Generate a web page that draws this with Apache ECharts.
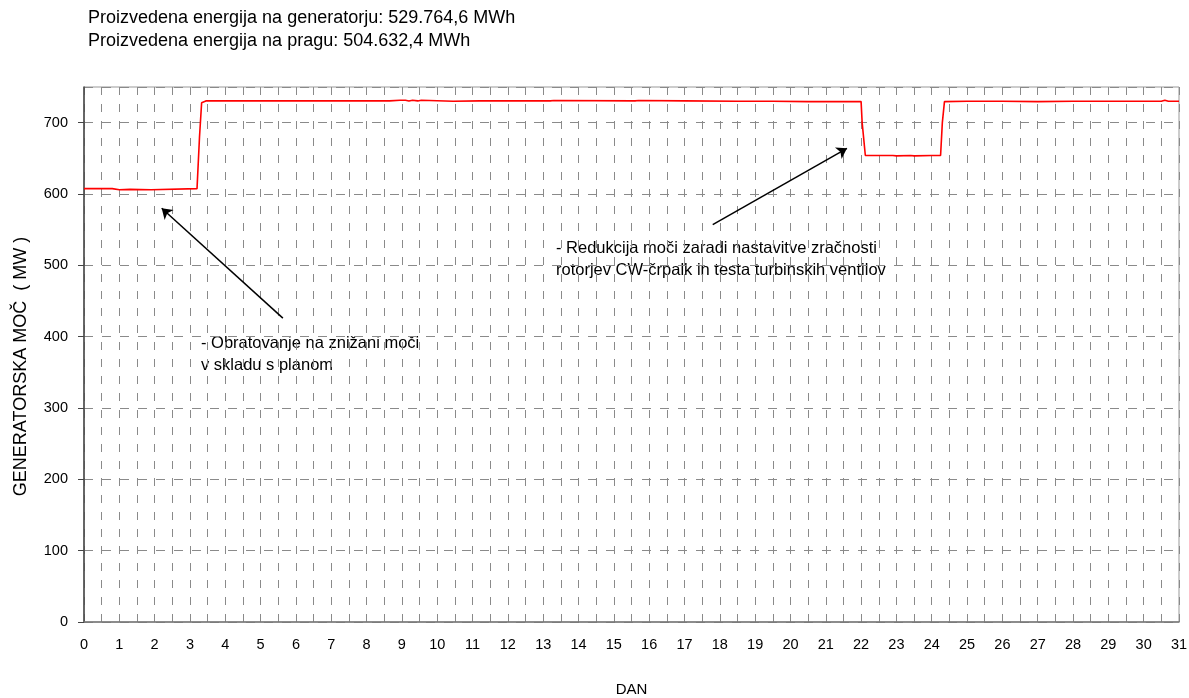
<!DOCTYPE html>
<html>
<head>
<meta charset="utf-8">
<script src="https://cdn.jsdelivr.net/npm/echarts@6/dist/echarts.min.js"></script>
<style>
html,body{margin:0;padding:0;background:#fff;}
#chart{width:1189px;height:698px;}
</style>
</head>
<body>
<div id="chart"></div>
<script>
// Day of month (x) and generator power in MW (y)
var days = [0, 0.8, 0.85, 1.0, 1.05, 1.3, 1.35, 1.9, 1.95, 3.2, 3.27, 3.33, 3.45,
  4.5, 4.55, 4.65, 5.1, 5.15, 5.2, 5.95, 6.0, 6.05, 8.15, 8.2, 8.25, 8.55, 8.6, 8.65,
  8.95, 9.0, 9.1, 9.2, 9.3, 9.45, 9.55, 9.6, 10.45, 11.2, 13.2, 13.3, 15.6, 15.7,
  17.0, 18.5, 19.5, 20.5, 22.0, 22.03, 22.12, 22.5, 22.9, 23.0, 23.4, 23.5, 24.0,
  24.25, 24.3, 24.36, 25.0, 25.5, 26.0, 27.0, 28.0, 29.0, 30.5, 30.6, 30.7, 31];
var power = [607.5, 607.5, 606, 606, 607, 606.5, 606, 606, 607.5, 607.5, 680, 728, 730.5,
  730.5, 731.5, 730.5, 730.5, 731.5, 730.5, 730.5, 731.5, 730.5, 730.5, 731.5, 730.5, 730.5, 731.5, 730.5,
  731.5, 731, 731.5, 730.5, 731.5, 730.5, 731.5, 730.5, 730, 730.5, 730.5, 731, 730.5, 731,
  730.5, 730, 730, 729.5, 729.5, 700, 654, 654, 654, 653.5, 654, 653.5, 654,
  654, 700, 729.5, 730, 730, 730, 729.5, 730, 730, 730, 731.5, 730, 730];

var xTickStep = 0.5;
var yTickStep = 100;
var titleLines = ['Proizvedena energija na generatorju: 529.764,6 MWh',
                  'Proizvedena energija na pragu: 504.632,4 MWh'];
var note1 = ['- Obratovanje na znižani moči', 'v skladu s planom'];
var note2 = ['- Redukcija moči zaradi nastavitve zračnosti', 'rotorjev CW-črpalk in testa turbinskih ventilov'];
// annotation arrows: [tail day, tail MW] -> [head day, head MW]
var arrow1 = [[5.63, 426], [2.2, 580]];
var arrow2 = [[17.8, 557], [21.6, 664]];

var series = days.map(function (d, i) { return [d, power[i]]; });

var chart = echarts.init(document.getElementById('chart'));
var font = 'Liberation Sans, Arial, sans-serif';
chart.setOption({
  animation: false,
  backgroundColor: '#fff',
  title: {
    text: titleLines.join('\n'),
    left: 88, top: 6, padding: 0,
    textStyle: { fontFamily: font, fontSize: 18, fontWeight: 'normal', color: '#000', lineHeight: 23.5 }
  },
  grid: { left: 84, right: 10, top: 87, bottom: 76, show: true, borderColor: '#999', borderWidth: 1,
          containLabel: false, outerBoundsMode: 'none' },
  xAxis: {
    type: 'value', min: 0, max: 31, interval: xTickStep,
    name: 'DAN', nameLocation: 'middle', nameGap: 60,
    nameTextStyle: { fontFamily: font, fontSize: 15, color: '#000' },
    axisLine: { lineStyle: { color: '#777', width: 1.5 } },
    axisTick: { show: false },
    axisLabel: {
      fontFamily: font, fontSize: 14.5, color: '#000', margin: 15,
      formatter: function (v) { return Math.abs(v - Math.round(v)) < 1e-6 ? String(Math.round(v)) : ''; }
    },
    splitLine: { show: true, lineStyle: { color: '#8a8a8a', type: [8, 9], width: 1 } }
  },
  yAxis: {
    type: 'value', min: 0, max: 750, interval: yTickStep,
    name: 'GENERATORSKA MOČ  ( MW )', nameLocation: 'middle', nameGap: 54,
    nameTextStyle: { fontFamily: font, fontSize: 18, color: '#000', padding: [0, 24, 0, 0] },
    axisLine: { show: true, lineStyle: { color: '#444', width: 1.5 } },
    axisTick: { show: true, length: 6, lineStyle: { color: '#444' } },
    axisLabel: {
      fontFamily: font, fontSize: 14.5, color: '#000', margin: 16, showMaxLabel: false,
      formatter: function (v) { return v % yTickStep === 0 ? String(v) : ''; }
    },
    splitLine: { show: true, lineStyle: { color: '#8a8a8a', type: [9, 9], width: 1 } }
  },
  graphic: [
    { type: 'text', left: 201, top: 332, style: { text: note1.join('\n'), font: '16.5px ' + font, fill: '#000', lineHeight: 22 } },
    { type: 'text', left: 556, top: 237, style: { text: note2.join('\n'), font: '16.5px ' + font, fill: '#000', lineHeight: 22 } }
  ],
  series: [{
    type: 'line', data: series, symbol: 'none',
    lineStyle: { color: '#ff0000', width: 1.6 },
    z: 3,
    markLine: {
      silent: true, symbol: ['none', 'arrow'], symbolSize: 10, label: { show: false },
      lineStyle: { color: '#000', type: 'solid', width: 1.5 },
      data: [
        [{ coord: arrow1[0] }, { coord: arrow1[1] }],
        [{ coord: arrow2[0] }, { coord: arrow2[1] }]
      ]
    }
  }]
});
</script>
</body>
</html>
